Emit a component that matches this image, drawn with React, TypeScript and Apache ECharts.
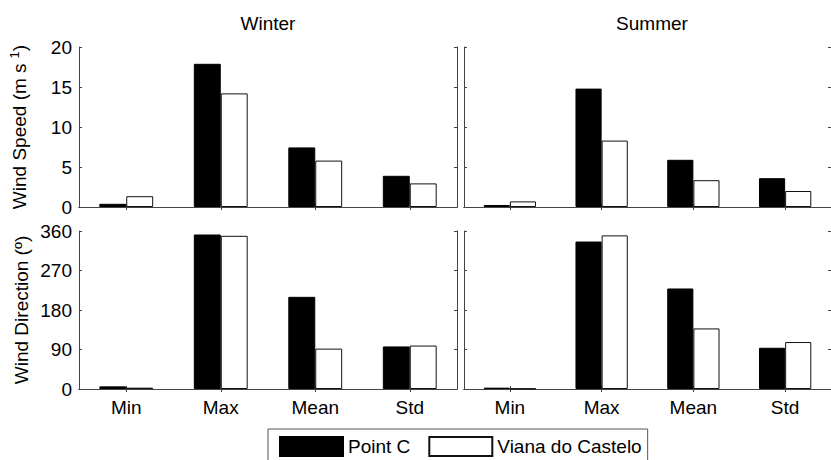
import React, { useEffect, useRef } from "react";
import * as echarts from "echarts";

const categories = ["Min", "Max", "Mean", "Std"];
const seriesNames = ["Point C", "Viana do Castelo"];
const seasons = ["Winter", "Summer"];

const winterSpeedC = [0.4, 17.9, 7.45, 3.9];
const winterSpeedV = [1.35, 14.2, 5.8, 2.95];
const summerSpeedC = [0.25, 14.8, 5.9, 3.6];
const summerSpeedV = [0.7, 8.3, 3.35, 2.0];
const winterDirC = [6, 352, 210, 97];
const winterDirV = [3, 349, 92, 99];
const summerDirC = [3, 336, 229, 94];
const summerDirV = [1, 350, 138, 107];

const speedTicks = { min: 0, max: 20, interval: 5 };
const dirTicks = { min: 0, max: 360, interval: 90 };

const FONT = "'Liberation Sans', Arial, Helvetica, sans-serif";
const FS = 19;

export default function App() {
  const ref = useRef<HTMLDivElement>(null);
  useEffect(() => {
    if (!ref.current) return;
    const chart = echarts.init(ref.current, null, { renderer: "svg" });

    const gridDefs = [
      { left: 79, top: 47, width: 378, height: 160 },
      { left: 464, top: 47, width: 378, height: 160 },
      { left: 79, top: 231, width: 378, height: 158 },
      { left: 464, top: 231, width: 378, height: 158 },
    ];
    const lineColor = "#444";
    const xAxes: any[] = [];
    const yAxes: any[] = [];
    const series: any[] = [];
    const dataSets = [
      [winterSpeedC, winterSpeedV],
      [summerSpeedC, summerSpeedV],
      [winterDirC, winterDirV],
      [summerDirC, summerDirV],
    ];
    gridDefs.forEach((g, i) => {
      const isBottom = i >= 2;
      const isLeft = i % 2 === 0;
      const ticks = isBottom ? dirTicks : speedTicks;
      xAxes.push({
        type: "category",
        gridIndex: i,
        position: "bottom",
        data: categories,
        axisLine: { show: true, lineStyle: { color: "#222", width: 1 } },
        axisTick: { show: true, inside: true, alignWithLabel: true, length: 3, lineStyle: { color: lineColor } },
        axisLabel: {
          show: isBottom,
          margin: 9,
          color: "#000",
          fontSize: FS,
          fontFamily: FONT,
        },
      });
      xAxes.push({
        type: "category",
        gridIndex: i,
        position: "top",
        data: categories,
        axisLine: { show: true, lineStyle: { color: lineColor, width: 1 } },
        axisTick: { show: true, inside: true, alignWithLabel: true, length: 3, lineStyle: { color: lineColor } },
        axisLabel: { show: false },
      });
      yAxes.push({
        type: "value",
        gridIndex: i,
        position: "left",
        min: ticks.min,
        max: ticks.max,
        interval: ticks.interval,
        name: isLeft ? (isBottom ? "Wind Direction (º)" : "Wind Speed (m s{sup|1})") : "",
        nameLocation: "middle",
        nameGap: 48,
        nameTextStyle: {
          color: "#000",
          fontSize: FS,
          fontFamily: FONT,
          rich: { sup: { fontSize: 13, verticalAlign: "top", padding: [0, 0, 10, 5], fontFamily: FONT, color: "#000" } },
        },
        splitLine: { show: false },
        axisLine: { show: true, lineStyle: { color: lineColor, width: 1 } },
        axisTick: { show: true, inside: true, length: 3, lineStyle: { color: lineColor } },
        axisLabel: {
          show: isLeft,
          margin: 7,
          color: "#000",
          fontSize: FS,
          fontFamily: FONT,
        },
      });
      yAxes.push({
        type: "value",
        gridIndex: i,
        position: "right",
        min: ticks.min,
        max: ticks.max,
        interval: ticks.interval,
        splitLine: { show: false },
        axisLine: { show: true, lineStyle: { color: lineColor, width: 1 } },
        axisTick: { show: true, inside: true, length: 3, lineStyle: { color: lineColor } },
        axisLabel: { show: false },
      });
      const [c, v] = dataSets[i];
      series.push({
        type: "bar",
        name: seriesNames[0],
        xAxisIndex: i * 2,
        yAxisIndex: i * 2,
        data: c,
        barGap: "0%",
        barCategoryGap: "43%",
        itemStyle: { color: "#000", borderColor: "#000", borderWidth: 1 },
      });
      series.push({
        type: "bar",
        name: seriesNames[1],
        xAxisIndex: i * 2,
        yAxisIndex: i * 2,
        data: v,
        barGap: "0%",
        barCategoryGap: "43%",
        itemStyle: { color: "#fff", borderColor: "#111", borderWidth: 1 },
      });
    });

    chart.setOption({
      animation: false,
      backgroundColor: "#fff",
      grid: gridDefs.map((g) => ({ ...g, containLabel: false })),
      xAxis: xAxes,
      yAxis: yAxes,
      series,
      legend: {
        data: seriesNames,
        left: 268,
        top: 429,
        padding: [7, 6, 7, 11],
        itemGap: 18,
        itemWidth: 63,
        itemHeight: 19,
        icon: "rect",
        borderColor: "#555",
        borderWidth: 1,
        textStyle: { color: "#000", fontSize: FS, fontFamily: FONT, padding: [0, 0, 0, 0] },
        selectedMode: false,
      },
      graphic: [
        {
          type: "text",
          x: 268,
          y: 14,
          style: { text: seasons[0], fill: "#000", font: `${FS}px ${FONT}`, align: "center", verticalAlign: "top" },
        },
        {
          type: "text",
          x: 652,
          y: 14,
          style: { text: seasons[1], fill: "#000", font: `${FS}px ${FONT}`, align: "center", verticalAlign: "top" },
        },
      ],
    });
    return () => chart.dispose();
  }, []);
  return (
    <div
      ref={ref}
      style={{ position: "fixed", left: 0, top: 0, width: 831, height: 460, background: "#fff" }}
    />
  );
}
